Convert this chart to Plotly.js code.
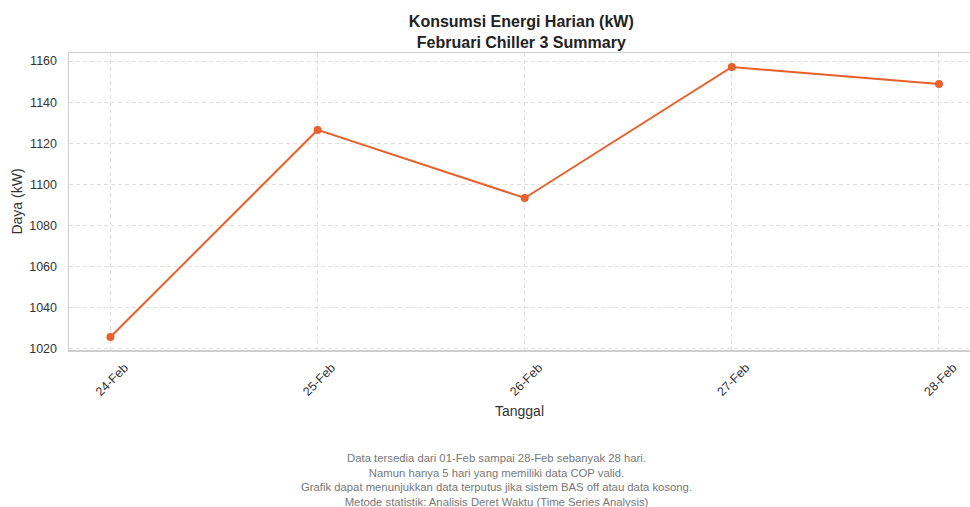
<!DOCTYPE html>
<html>
<head>
<meta charset="utf-8">
<script src="https://cdn.plot.ly/plotly-3.0.1.min.js"></script>
<style>html,body{margin:0;padding:0;background:#fff;}#chart{width:970px;height:507px;}</style>
</head>
<body>
<div id="chart"></div>
<script>
const dates = ["24-Feb", "25-Feb", "26-Feb", "27-Feb", "28-Feb"];
const power = [1025.8, 1126.5, 1093.4, 1157.1, 1148.8];
const yTicks = [1020, 1040, 1060, 1080, 1100, 1120, 1140, 1160];
const titleLines = ["Konsumsi Energi Harian (kW)", "Februari Chiller 3 Summary"];
const noteLines = [
  "Data tersedia dari 01-Feb sampai 28-Feb sebanyak 28 hari.",
  "Namun hanya 5 hari yang memiliki data COP valid.",
  "Grafik dapat menunjukkan data terputus jika sistem BAS off atau data kosong.",
  "Metode statistik: Analisis Deret Waktu (Time Series Analysis)"
];

const font = "Liberation Sans, Arial, sans-serif";
const trace = {
  x: dates,
  y: power,
  type: "scatter",
  mode: "lines+markers",
  line: {color: "#E8602C", width: 2},
  marker: {color: "#E8602C", size: 8},
  hoverinfo: "x+y"
};

const layout = {
  width: 970, height: 507,
  margin: {l: 69, r: 0, t: 53, b: 157},
  paper_bgcolor: "#fff", plot_bgcolor: "#fff",
  font: {family: font, color: "#333"},
  showlegend: false,
  title: {
    text: "<b>" + titleLines.join("<br>") + "</b>",
    font: {family: font, size: 16, color: "#222"},
    x: 0.502, xref: "paper", xanchor: "center",
    y: 0.947, yref: "container", yanchor: "top"
  },
  xaxis: {
    type: "category",
    range: [-0.2, 4.15],
    tickangle: -45,
    tickfont: {size: 12.5, color: "#333"},
    ticklabelshift: 14,
    ticklabelstandoff: 4,
    showgrid: true, gridcolor: "#e0e0e0", griddash: "4px,3px", gridwidth: 1,
    showline: true, linecolor: "#cfcfcf", linewidth: 1.5, mirror: true,
    ticks: "", zeroline: false,
    title: {text: "Tanggal", font: {size: 14, color: "#333"}, standoff: 8}
  },
  yaxis: {
    range: [1019.5, 1163.9],
    tickvals: yTicks,
    tickfont: {size: 12.5, color: "#333"},
    ticklabelstandoff: 8,
    showgrid: true, gridcolor: "#e0e0e0", griddash: "4px,3px", gridwidth: 1,
    showline: true, linecolor: "#cfcfcf", linewidth: 1.5, mirror: true,
    ticks: "", zeroline: false,
    title: {text: "Daya (kW)", font: {size: 14, color: "#333"}, standoff: 3}
  },
  annotations: [{
    text: noteLines.join("<br>"),
    xref: "paper", yref: "paper",
    x: 0.475, y: -0.337,
    xanchor: "center", yanchor: "top",
    showarrow: false, align: "center",
    font: {family: font, size: 11.3, color: "#777"}
  }]
};

Plotly.newPlot("chart", [trace], layout, {displayModeBar: false, staticPlot: true});
</script>
</body>
</html>
